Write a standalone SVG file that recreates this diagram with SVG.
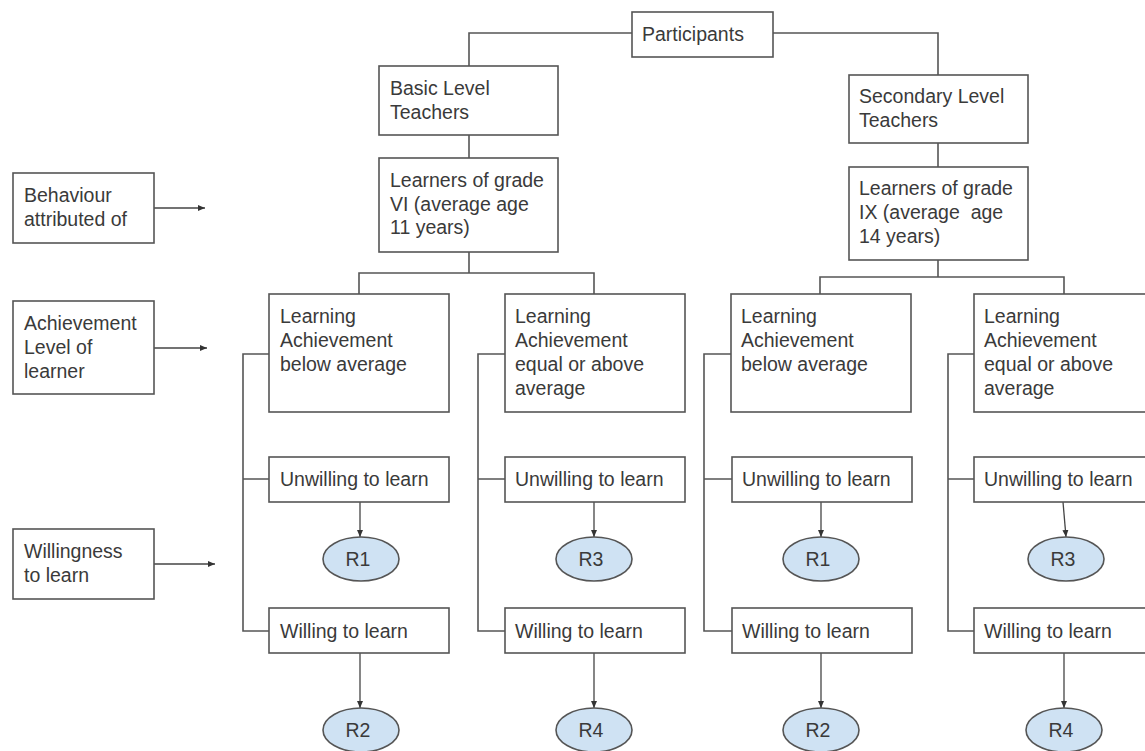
<svg xmlns="http://www.w3.org/2000/svg" width="1145" height="751" viewBox="0 0 1145 751">
<defs>
<marker id="ah" markerWidth="8" markerHeight="8" refX="7" refY="4" orient="auto" markerUnits="userSpaceOnUse">
<path d="M0,1 L7,4 L0,7 Z" fill="#333"/>
</marker>
<style>
rect.b{fill:#fff;stroke:#555;stroke-width:1.6}
ellipse.r{fill:#cfe2f3;stroke:#555;stroke-width:1.6}
text{font-family:"Liberation Sans",Arial,sans-serif;font-size:19.5px;fill:#3a3a3a}
text.c{text-anchor:middle}
.ln{fill:none;stroke:#555;stroke-width:1.6}
.ar{fill:none;stroke:#444;stroke-width:1.3;marker-end:url(#ah)}
</style>
</defs>
<rect width="1145" height="751" fill="#fff"/>
<g id="connectors">
<path class="ln" d="M632,33 H469 V66"/>
<path class="ln" d="M773,33 H938 V75"/>
<path class="ln" d="M469,135 V158"/>
<path class="ln" d="M938,143 V167"/>
<path class="ln" d="M469,252 V273 M359,294 V273 H594 V294"/>
<path class="ln" d="M938,260 V277 M820,294 V277 H1064 V294"/>
<path class="ln" d="M269,354 H243 V631 H269 M243,479 H269"/>
<path class="ln" d="M505,354 H478 V631 H505 M478,479 H505"/>
<path class="ln" d="M731,354 H704 V631 H732 M704,479 H732"/>
<path class="ln" d="M974,354 H948 V631 H974 M948,479 H974"/>
<path class="ar" d="M154,208 H205"/>
<path class="ar" d="M154,348 H207"/>
<path class="ar" d="M154,564 H215"/>
<path class="ar" d="M360,502 V537"/>
<path class="ar" d="M360,653 V708"/>
<path class="ar" d="M594,502 V537"/>
<path class="ar" d="M594,653 V708"/>
<path class="ar" d="M821,502 V537"/>
<path class="ar" d="M821,653 V708"/>
<path class="ar" d="M1063,502 L1066,537"/>
<path class="ar" d="M1064,653 V708"/>
</g>
<g id="participants"><rect class="b" x="632" y="12" width="141" height="45"/><text x="642" y="41">Participants</text></g>
<g id="basic"><rect class="b" x="379" y="66" width="179" height="69"/><text x="390" y="95">Basic Level</text><text x="390" y="119">Teachers</text></g>
<g id="secondary"><rect class="b" x="849" y="75" width="179" height="68"/><text x="859" y="103">Secondary Level</text><text x="859" y="127">Teachers</text></g>
<g id="grade6"><rect class="b" x="379" y="158" width="179" height="94"/><text x="390" y="187">Learners of grade</text><text x="390" y="211">VI (average age</text><text x="390" y="234">11 years)</text></g>
<g id="grade9"><rect class="b" x="849" y="167" width="179" height="93"/><text x="859" y="195">Learners of grade</text><text x="859" y="219" xml:space="preserve">IX (average  age</text><text x="859" y="243">14 years)</text></g>
<g id="behaviour"><rect class="b" x="13" y="173" width="141" height="70"/><text x="24" y="202">Behaviour</text><text x="24" y="226">attributed of</text></g>
<g id="achievement"><rect class="b" x="13" y="301" width="141" height="93"/><text x="24" y="330">Achievement</text><text x="24" y="354">Level of</text><text x="24" y="378">learner</text></g>
<g id="willingness"><rect class="b" x="13" y="529" width="141" height="70"/><text x="24" y="558">Willingness</text><text x="24" y="582">to learn</text></g>
<g id="la1"><rect class="b" x="269" y="294" width="180" height="118"/><text x="280" y="323">Learning</text><text x="280" y="347">Achievement</text><text x="280" y="371">below average</text></g>
<g id="la2"><rect class="b" x="505" y="294" width="180" height="118"/><text x="515" y="323">Learning</text><text x="515" y="347">Achievement</text><text x="515" y="371">equal or above</text><text x="515" y="395">average</text></g>
<g id="la3"><rect class="b" x="731" y="294" width="180" height="118"/><text x="741" y="323">Learning</text><text x="741" y="347">Achievement</text><text x="741" y="371">below average</text></g>
<g id="la4"><rect class="b" x="974" y="294" width="180" height="118"/><text x="984" y="323">Learning</text><text x="984" y="347">Achievement</text><text x="984" y="371">equal or above</text><text x="984" y="395">average</text></g>
<g id="unw1"><rect class="b" x="269" y="457" width="180" height="45"/><text x="280" y="486">Unwilling to learn</text></g>
<g id="unw2"><rect class="b" x="505" y="457" width="180" height="45"/><text x="515" y="486">Unwilling to learn</text></g>
<g id="unw3"><rect class="b" x="732" y="457" width="180" height="45"/><text x="742" y="486">Unwilling to learn</text></g>
<g id="unw4"><rect class="b" x="974" y="457" width="180" height="45"/><text x="984" y="486">Unwilling to learn</text></g>
<g id="wil1"><rect class="b" x="269" y="608" width="180" height="45"/><text x="280" y="638">Willing to learn</text></g>
<g id="wil2"><rect class="b" x="505" y="608" width="180" height="45"/><text x="515" y="638">Willing to learn</text></g>
<g id="wil3"><rect class="b" x="732" y="608" width="180" height="45"/><text x="742" y="638">Willing to learn</text></g>
<g id="wil4"><rect class="b" x="974" y="608" width="180" height="45"/><text x="984" y="638">Willing to learn</text></g>
<g id="r1a"><ellipse class="r" cx="361" cy="559" rx="38" ry="22"/><text class="c" x="358" y="566">R1</text></g>
<g id="r3a"><ellipse class="r" cx="594" cy="559" rx="38" ry="22"/><text class="c" x="591" y="566">R3</text></g>
<g id="r1b"><ellipse class="r" cx="821" cy="559" rx="38" ry="22"/><text class="c" x="818" y="566">R1</text></g>
<g id="r3b"><ellipse class="r" cx="1066" cy="559" rx="38" ry="22"/><text class="c" x="1063" y="566">R3</text></g>
<g id="r2a"><ellipse class="r" cx="361" cy="730" rx="38" ry="22"/><text class="c" x="358" y="737">R2</text></g>
<g id="r4a"><ellipse class="r" cx="594" cy="730" rx="38" ry="22"/><text class="c" x="591" y="737">R4</text></g>
<g id="r2b"><ellipse class="r" cx="821" cy="730" rx="38" ry="22"/><text class="c" x="818" y="737">R2</text></g>
<g id="r4b"><ellipse class="r" cx="1064" cy="730" rx="38" ry="22"/><text class="c" x="1061" y="737">R4</text></g>
</svg>
